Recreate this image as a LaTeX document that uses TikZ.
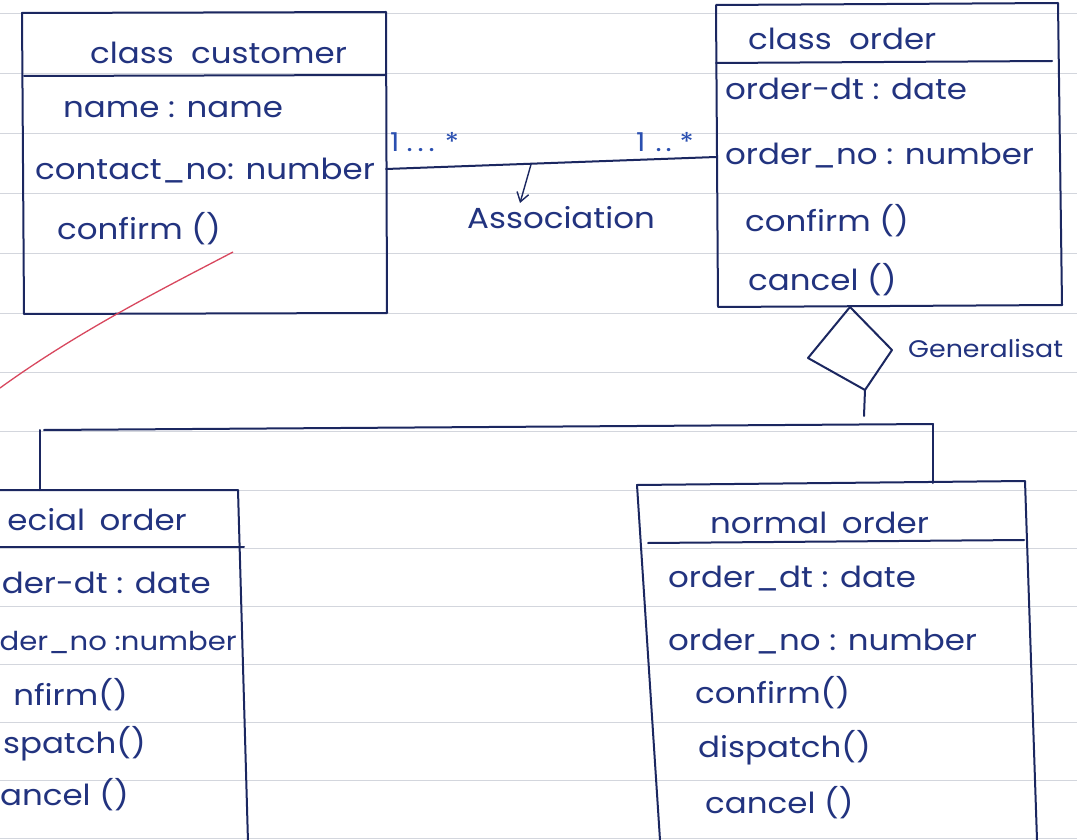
\documentclass[tikz,border=0pt]{standalone}
\usepackage{fontspec}
\setmainfont{Poppins}[FakeStretch=1.12]
\usetikzlibrary{arrows.meta}
\definecolor{ink}{HTML}{1B2760}
\definecolor{pen}{HTML}{22337F}
\definecolor{mult}{HTML}{2A4FB0}
\definecolor{ruleline}{HTML}{D3D6DD}
\definecolor{redpen}{HTML}{D8475E}
\tikzset{
  boxline/.style={draw=ink, line width=2pt, line join=round, line cap=round},
  ruled/.style={draw=ruleline, line width=0.9pt},
  txt/.style={anchor=base west, inner sep=0pt, text=pen, font=\fontsize{29}{31}\selectfont},
  txtr/.style={txt, anchor=base east},
  multtxt/.style={txt, text=mult, font=\fontsize{26}{28}\selectfont},
}
\begin{document}
\begin{tikzpicture}[x=1pt,y=-1pt]
\useasboundingbox (0,0) rectangle (1077,840);
\clip (0,0) rectangle (1077,840);
\fill[white] (0,0) rectangle (1077,840);

% ruled notebook paper
\foreach \y in {13,73,133,193,253,313,372,431,490,548,606,664,722,780,838}
  \draw[ruled] (0,\y) -- (1077,\y);

% ---------- class customer ----------
\coordinate (custTL) at (22,13);
\coordinate (custTR) at (386,12);
\coordinate (custBR) at (387,313);
\coordinate (custBL) at (24,314);
\draw[boxline] (custTL) -- (custTR) -- (custBR) -- (custBL) -- cycle;
\draw[boxline] (24,76) -- (385,75);
\node[txt] (custTitle) at (90,64) {class\hspace{0.6em}customer};
\node[txt] (custA1) at (63,118) {name : name};
\node[txt] (custA2) at (35,180) {contact\_no: number};
\node[txt] (custM1) at (57,240) {confirm ()};

% ---------- class order ----------
\coordinate (ordTL) at (716,5);
\coordinate (ordTR) at (1058,3);
\coordinate (ordBR) at (1062,305);
\coordinate (ordBL) at (718,307);
\draw[boxline] (ordTL) -- (ordTR) -- (ordBR) -- (ordBL) -- cycle;
\draw[boxline] (716,63) -- (1052,61);
\node[txt] (ordTitle) at (748,50) {class\hspace{0.6em}order};
\node[txt] (ordA1) at (725,100) {order-dt : date};
\node[txt] (ordA2) at (725,165) {order\_no : number};
\node[txt] (ordM1) at (745,232) {confirm ()};
\node[txt] (ordM2) at (748,290) {cancel ()};

% ---------- association ----------
\coordinate (custR) at (386,169);
\coordinate (ordL) at (716,157);
\draw[boxline] (custR) -- (ordL);
\node[multtxt] (multL) at (390,152) {1\hspace{7pt}.\hspace{5pt}.\hspace{5pt}.\hspace{10pt}*};
\node[multtxt] (multR) at (636,152) {1\hspace{10pt}.\hspace{4pt}.\hspace{8pt}*};
\path (custR) -- (ordL) coordinate[pos=0.44] (assocFoot);
\coordinate (assocTip) at (520,203);
\draw[boxline, line width=1.4pt, -{Straight Barb[length=9pt,width=12pt]}] (assocFoot) -- (assocTip);
\node[txt] (assocLbl) at (467,228) {Association};

% ---------- generalisation ----------
\coordinate (dTop) at (850,307);
\coordinate (dRight) at (892,350);
\coordinate (dBot) at (865,390);
\coordinate (dLeft) at (808,358);
\draw[boxline] (dTop) -- (dRight) -- (dBot) -- (dLeft) -- cycle;
\coordinate (genStem) at (864,416);
\draw[boxline] (dBot) -- (genStem);
\node[txt, font=\fontsize{24}{26}\selectfont] (genLbl) at (908,357) {Generalisat};

\coordinate (barL) at (44,430);
\coordinate (barR) at (933,424);
\draw[boxline] (barL) -- (barR);

% ---------- special order ----------
\coordinate (spTL) at (-5,490);
\coordinate (spTR) at (238,490);
\coordinate (spBR) at (248,842);
\coordinate (spBL) at (-5,842);
\draw[boxline] (spTL) -- (spTR) -- (spBR) -- (spBL);
\draw[boxline] (-5,547) -- (244,547);
\coordinate (spTop) at (40,490);
\draw[boxline] (40,430) -- (spTop);
\node[txtr] (spTitle) at (187,530) {ecial\hspace{0.5em}order};
\node[txtr] (spA1) at (211,593) {der-dt : date};
\node[txtr, font=\fontsize{26}{28}\selectfont] (spA2) at (237,650) {der\_no :number};
\node[txtr] (spM1) at (128,705) {nfirm()};
\node[txtr] (spM2) at (146,753) {spatch()};
\node[txtr] (spM3) at (129,805) {ancel ()};

% ---------- normal order ----------
\coordinate (noTL) at (637,485);
\coordinate (noTR) at (1025,481);
\coordinate (noBR) at (1037,840);
\coordinate (noBL) at (660,840);
\draw[boxline] (noBL) -- (noTL) -- (noTR) -- (noBR);
\draw[boxline] (648,543) -- (1024,540);
\coordinate (noTop) at (933,483);
\draw[boxline] (barR) -- (noTop);
\node[txt] (noTitle) at (710,533) {normal\hspace{0.5em}order};
\node[txt] (noA1) at (668,587) {order\_dt : date};
\node[txt] (noA2) at (668,650) {order\_no : number};
\node[txt] (noM1) at (695,703) {confirm()};
\node[txt] (noM2) at (698,757) {dispatch()};
\node[txt] (noM3) at (705,813) {cancel ()};

% ---------- red pen stroke ----------
\coordinate (redA) at (233,252);
\coordinate (redB) at (0,388);
\draw[redpen, line width=1.3pt] (redA) .. controls (170,285) and (80,330) .. (redB);
\end{tikzpicture}
\end{document}
